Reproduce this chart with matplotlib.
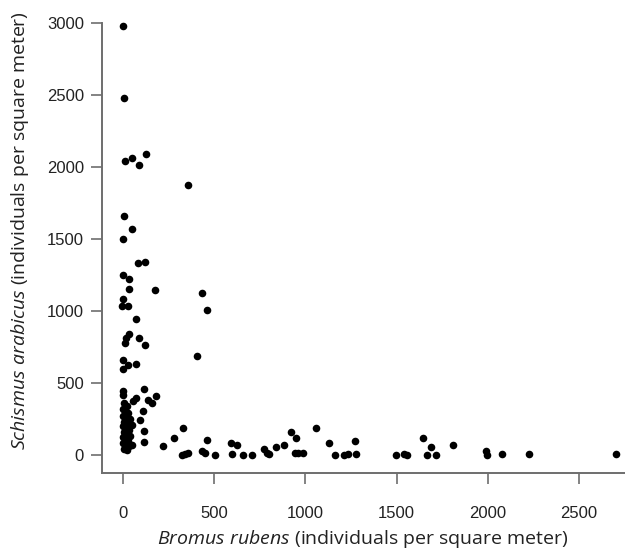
import matplotlib.pyplot as plt

plt.rcParams['mathtext.fontset'] = 'custom'
plt.rcParams['mathtext.it'] = 'Open Sans:italic'
plt.rcParams['mathtext.rm'] = 'Open Sans'

# Bromus rubens density (x) vs Schismus arabicus density (y), one dot per plot
bromus = [
    0, 7, 13, 48, 89, 126, 355,
    5, 51, 0, 84, 121, 0, 35, 35, 175, 435, 0, -5, 29, 459, 70,
    35, 16, 11, 89, 121, 0, 29, 71, 0, 407,
    0, 2, 117, 181, 71, 57, 139, 157, 111, 93, 117, 117, 48,
    5, 20, 0, 10, 30, 0, 15, 40, 5, 25, 50, 0, 15, 35, 5, 20,
    0, 40, 10, 25, 0, 15, 35, 5, 20,
    217, 280, 327, 322, 340, 358, 435, 449, 459, 504,
    592, 623, 596, 660, 705, 773, 788, 802, 839, 883, 919, 948,
    943, 961, 985, 1056, 1131, 1162, 1211, 1235, 1272, 1277,
    1497, 1540, 1555, 1646, 1688, 1668, 1716, 1811,
    1990, 1994, 2076, 2227, 2703,
]
schismus = [
    2978, 2477, 2041, 2062, 2017, 2089, 1877,
    1660, 1572, 1503, 1332, 1339, 1251, 1223, 1152, 1145, 1127, 1083, 1032, 1032, 1004, 942,
    843, 812, 778, 815, 762, 658, 628, 630, 600, 686,
    443, 415, 459, 411, 393, 376, 381, 362, 305, 242, 168, 92, 69,
    360, 340, 320, 300, 290, 270, 255, 250, 230, 220, 210, 200, 185, 175, 160, 145,
    125, 130, 110, 95, 80, 65, 60, 45, 35,
    62, 115, 191, 0, 7, 16, 30, 12, 104, 0,
    81, 69, 7, 0, 0, 39, 12, 7, 53, 69, 162, 115,
    16, 12, 16, 191, 81, 0, 0, 7, 99, 7,
    0, 7, 0, 115, 58, 0, 0, 69,
    28, 0, 7, 7, 7,
]

x_ticks = [0, 500, 1000, 1500, 2000, 2500]
y_ticks = [0, 500, 1000, 1500, 2000, 2500, 3000]

fig = plt.figure(figsize=(6.25, 5.52), dpi=100)
ax = fig.add_axes([0.1632, 0.1431, 0.8368, 0.8152])

ax.scatter(bromus, schismus, s=30, color='black', linewidths=0, clip_on=False, zorder=3)

ax.set_xlim(-115, 2752)
ax.set_ylim(-125, 3000)
ax.set_xticks(x_ticks)
ax.set_yticks(y_ticks)

for side in ('top', 'right'):
    ax.spines[side].set_visible(False)
for side in ('left', 'bottom'):
    ax.spines[side].set_color('#6e6e6e')
    ax.spines[side].set_linewidth(1.4)

ax.tick_params(axis='both', direction='out', length=8, width=1.2, color='#6e6e6e',
               labelsize=12, pad=5, labelcolor='#222222')
for lab in ax.get_xticklabels() + ax.get_yticklabels():
    lab.set_family('Liberation Sans')
ax.tick_params(axis='x', pad=16)

ax.set_xlabel(r'$\it{Bromus\ rubens}$ (individuals per square meter)',
              family='Open Sans', fontsize=14, color='#222222', va='center')
ax.set_ylabel(r'$\it{Schismus\ arabicus}$ (individuals per square meter)',
              family='Open Sans', fontsize=14, color='#222222', va='center')
ax.xaxis.set_label_coords(0.499, -0.146)
ax.yaxis.set_label_coords(-0.157, 0.54)

fig.savefig('out.png', dpi=100)
